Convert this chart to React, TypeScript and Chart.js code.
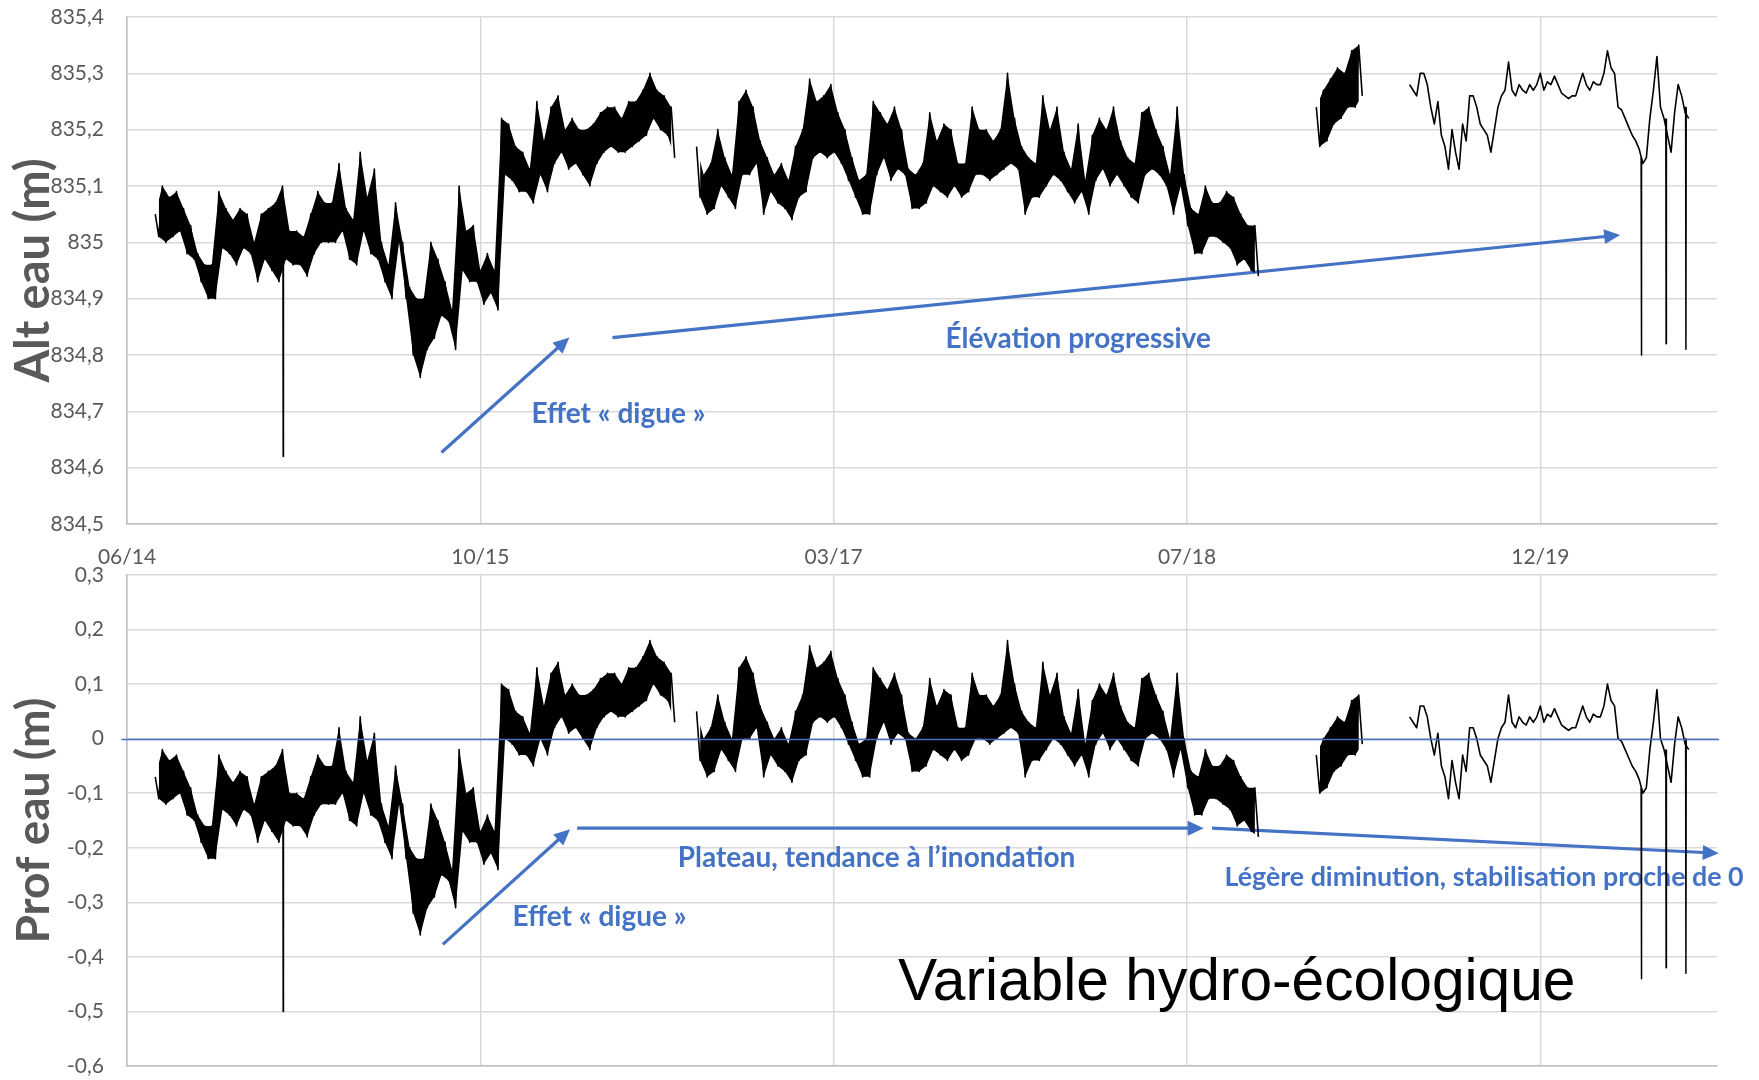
import React, { useEffect, useRef } from "react";
import { Chart, registerables } from "chart.js";

Chart.register(...registerables);

// ---------------- DATA ----------------
// x axis = days since the first major tick (06/14); one major tick every 500 days
const xTickValues = [0, 500, 1000, 1500, 2000];
const xTickLabels = ["06/14", "10/15", "03/17", "07/18", "12/19"];
const altTickLabels = ["834,5", "834,6", "834,7", "834,8", "834,9", "835", "835,1", "835,2", "835,3", "835,4"];
const profTickLabels = ["-0,6", "-0,5", "-0,4", "-0,3", "-0,2", "-0,1", "0", "0,1", "0,2", "0,3"];

// four recording periods (first sample day), samples every 5 days
const segmentStartDays = [40, 806, 1683, 1815];
const sampleStepDays = 5;

// Altitude of water (m) – recording periods 1..4 (noisy periods alternate high / low readings)
const altSeg1 = [
  835.05, 835.01, 835.1, 835.0, 835.08, 835.01, 835.09, 835.02, 835.06, 834.98, 835.03, 834.97, 834.98, 834.93, 834.96, 834.9, 834.96, 834.9, 835.09, 834.99,
  835.06, 834.98, 835.04, 834.96, 835.06, 834.99, 835.05, 834.98, 835.0, 834.93, 835.05, 834.97, 835.06, 834.95, 835.07, 834.93, 835.1, 834.97, 835.02, 834.96,
  835.02, 834.96, 835.01, 834.94, 835.05, 834.98, 835.09, 835.0, 835.07, 835.0, 835.07, 835.0, 835.14, 835.02, 835.06, 834.97, 835.04, 834.96, 835.16, 835.02,
  835.08, 834.98, 835.13, 834.97, 835.0, 834.93, 834.96, 834.9, 835.07, 835.0, 835.0, 834.9, 834.92, 834.8, 834.9, 834.76, 834.9, 834.81, 835.0, 834.83,
  834.97, 834.87, 834.93, 834.86, 834.88, 834.81, 835.1, 834.95, 835.02, 834.93, 835.03, 834.93, 834.95, 834.89, 834.98, 834.91, 834.95, 834.88, 835.22, 835.12,
  835.21, 835.11, 835.17, 835.09, 835.16, 835.09, 835.13, 835.07, 835.25, 835.12, 835.18, 835.09, 835.24, 835.14, 835.26, 835.16, 835.2, 835.13, 835.22, 835.14,
  835.2, 835.12, 835.2, 835.1, 835.21, 835.14, 835.23, 835.16, 835.24, 835.17, 835.24, 835.16, 835.22, 835.16, 835.25, 835.17, 835.25, 835.18, 835.27, 835.19,
  835.3, 835.22, 835.27, 835.2, 835.26, 835.19, 835.24, 835.15,
];
const altSeg2 = [
  835.17, 835.08, 835.12, 835.05, 835.14, 835.06, 835.2, 835.1, 835.15, 835.08, 835.12, 835.06, 835.25, 835.12, 835.27, 835.12, 835.24, 835.14, 835.18, 835.05,
  835.15, 835.09, 835.12, 835.07, 835.14, 835.06, 835.11, 835.04, 835.17, 835.08, 835.2, 835.09, 835.29, 835.15, 835.25, 835.16, 835.26, 835.15, 835.28, 835.16,
  835.23, 835.14, 835.2, 835.11, 835.15, 835.08, 835.11, 835.05, 835.12, 835.05, 835.25, 835.12, 835.23, 835.15, 835.21, 835.11, 835.24, 835.13, 835.2, 835.12,
  835.13, 835.06, 835.12, 835.06, 835.14, 835.07, 835.23, 835.1, 835.18, 835.09, 835.21, 835.08, 835.2, 835.1, 835.14, 835.08, 835.14, 835.09, 835.24, 835.12,
  835.2, 835.12, 835.2, 835.11, 835.18, 835.12, 835.2, 835.13, 835.3, 835.14, 835.22, 835.13, 835.17, 835.05, 835.15, 835.08, 835.14, 835.08, 835.26, 835.1,
  835.2, 835.12, 835.24, 835.11, 835.16, 835.09, 835.13, 835.07, 835.21, 835.09, 835.11, 835.05, 835.19, 835.11, 835.22, 835.13, 835.2, 835.1, 835.24, 835.12,
  835.18, 835.1, 835.15, 835.08, 835.14, 835.07, 835.23, 835.12, 835.24, 835.13, 835.2, 835.12, 835.17, 835.1, 835.12, 835.05, 835.24, 835.1, 835.12, 835.03,
  835.06, 834.98, 835.05, 834.98, 835.1, 835.01, 835.07, 835.01, 835.07, 835.0, 835.09, 834.99, 835.08, 834.96, 835.05, 834.97, 835.03, 834.95, 835.03, 834.94,
];
const altSeg3 = [835.24, 835.17, 835.27, 835.18, 835.29, 835.21, 835.31, 835.22, 835.3, 835.24, 835.34, 835.24, 835.35, 835.26];
const altSeg4 = [
  835.28, 835.27, 835.26, 835.3, 835.3, 835.28, 835.24, 835.21, 835.25, 835.19,
  835.17, 835.13, 835.2, 835.16, 835.13, 835.21, 835.18, 835.26, 835.26, 835.24,
  835.21, 835.2, 835.19, 835.16, 835.2, 835.24, 835.26, 835.27, 835.32, 835.27,
  835.26, 835.28, 835.27, 835.265, 835.28, 835.27, 835.28, 835.3, 835.27, 835.285,
  835.28, 835.295, 835.28, 835.265, 835.26, 835.255, 835.26, 835.26, 835.28, 835.3,
  835.28, 835.27, 835.285, 835.28, 835.28, 835.3, 835.34, 835.31, 835.3, 835.24,
  835.235, 835.22, 835.205, 835.19, 835.18, 835.165, 835.14, 835.15, 835.22, 835.27,
  835.33, 835.24, 835.22, 835.19, 835.16, 835.23, 835.28, 835.26, 835.23, 835.22,
];

// Water depth (m) – recording periods 1..4
const profSeg1 = [
  -0.07, -0.11, -0.02, -0.12, -0.04, -0.11, -0.03, -0.1, -0.06, -0.14, -0.09, -0.15, -0.14, -0.19, -0.16, -0.22, -0.16, -0.22, -0.03, -0.13,
  -0.06, -0.14, -0.08, -0.16, -0.06, -0.13, -0.07, -0.14, -0.12, -0.19, -0.07, -0.15, -0.06, -0.17, -0.05, -0.19, -0.02, -0.15, -0.1, -0.16,
  -0.1, -0.16, -0.11, -0.18, -0.07, -0.14, -0.03, -0.12, -0.05, -0.12, -0.05, -0.12, 0.02, -0.1, -0.06, -0.15, -0.08, -0.16, 0.04, -0.1,
  -0.04, -0.14, 0.01, -0.15, -0.12, -0.19, -0.16, -0.22, -0.05, -0.12, -0.12, -0.22, -0.2, -0.32, -0.22, -0.36, -0.22, -0.31, -0.12, -0.29,
  -0.15, -0.25, -0.19, -0.26, -0.24, -0.31, -0.02, -0.17, -0.1, -0.19, -0.09, -0.19, -0.17, -0.23, -0.14, -0.21, -0.17, -0.24, 0.1, 0.0,
  0.09, -0.01, 0.05, -0.03, 0.04, -0.03, 0.01, -0.05, 0.13, 0.0, 0.06, -0.03, 0.12, 0.02, 0.14, 0.04, 0.08, 0.01, 0.1, 0.02,
  0.08, 0.0, 0.08, -0.02, 0.09, 0.02, 0.11, 0.04, 0.12, 0.05, 0.12, 0.04, 0.1, 0.04, 0.13, 0.05, 0.13, 0.06, 0.15, 0.07,
  0.18, 0.1, 0.15, 0.08, 0.14, 0.07, 0.12, 0.03,
];
const profSeg2 = [
  0.05, -0.04, 0.0, -0.07, 0.02, -0.06, 0.08, -0.02, 0.03, -0.04, 0.0, -0.06, 0.13, 0.0, 0.15, 0.0, 0.12, 0.02, 0.06, -0.07,
  0.03, -0.03, 0.0, -0.05, 0.02, -0.06, -0.01, -0.08, 0.05, -0.04, 0.08, -0.03, 0.17, 0.03, 0.13, 0.04, 0.14, 0.03, 0.16, 0.04,
  0.11, 0.02, 0.08, -0.01, 0.03, -0.04, -0.01, -0.07, 0.0, -0.07, 0.13, 0.0, 0.11, 0.03, 0.09, -0.01, 0.12, 0.01, 0.08, 0.0,
  0.01, -0.06, 0.0, -0.06, 0.02, -0.05, 0.11, -0.02, 0.06, -0.03, 0.09, -0.04, 0.08, -0.02, 0.02, -0.04, 0.02, -0.03, 0.12, 0.0,
  0.08, 0.0, 0.08, -0.01, 0.06, 0.0, 0.08, 0.01, 0.18, 0.02, 0.1, 0.01, 0.05, -0.07, 0.03, -0.04, 0.02, -0.04, 0.14, -0.02,
  0.08, 0.0, 0.12, -0.01, 0.04, -0.03, 0.01, -0.05, 0.09, -0.03, -0.01, -0.07, 0.07, -0.01, 0.1, 0.01, 0.08, -0.02, 0.12, 0.0,
  0.06, -0.02, 0.03, -0.04, 0.02, -0.05, 0.11, 0.0, 0.12, 0.01, 0.08, 0.0, 0.05, -0.02, 0.0, -0.07, 0.12, -0.02, 0.0, -0.09,
  -0.06, -0.14, -0.07, -0.14, -0.02, -0.11, -0.05, -0.11, -0.05, -0.12, -0.03, -0.13, -0.04, -0.16, -0.07, -0.15, -0.09, -0.17, -0.09, -0.18,
];
const profSeg3 = [-0.03, -0.1, 0.0, -0.09, 0.02, -0.06, 0.04, -0.05, 0.03, -0.03, 0.07, -0.03, 0.08, -0.01];
const profSeg4 = [
  0.04, 0.03, 0.02, 0.06, 0.06, 0.04, 0.0, -0.03, 0.01, -0.05,
  -0.07, -0.11, -0.04, -0.08, -0.11, -0.03, -0.06, 0.02, 0.02, 0.0,
  -0.03, -0.04, -0.05, -0.08, -0.04, 0.0, 0.02, 0.03, 0.08, 0.03,
  0.02, 0.04, 0.03, 0.025, 0.04, 0.03, 0.04, 0.06, 0.03, 0.045,
  0.04, 0.055, 0.04, 0.025, 0.02, 0.015, 0.02, 0.02, 0.04, 0.06,
  0.04, 0.03, 0.045, 0.04, 0.04, 0.06, 0.1, 0.07, 0.06, 0.0,
  -0.005, -0.02, -0.035, -0.05, -0.06, -0.075, -0.1, -0.09, -0.02, 0.03,
  0.09, 0.0, -0.02, -0.05, -0.08, -0.01, 0.04, 0.02, -0.01, -0.02,
];

// single-sample drops of the sensor
const spikeDays = [221, 2143, 2178, 2206];
const altSpikeBase = [835.04, 835.15, 835.22, 835.24];
const altSpikeMin = [834.62, 834.8, 834.82, 834.81];
const profSpikeBase = [-0.08, -0.09, -0.02, 0.0];
const profSpikeMin = [-0.5, -0.44, -0.42, -0.43];

// ---------------- STYLE ----------------
const FONT = "Lato, 'Open Sans', sans-serif";
const TICK_COLOR = "#595959";
const GRID_COLOR = "#d9d9d9";
const AXIS_COLOR = "#bfbfbf";
const BLUE = "#4472C4";
const NOTE_FONT = `bold 28px ${FONT}`;
const NOTE_FONT_SMALL = `bold 26.8px ${FONT}`;
const NOISY_SEGMENTS = [true, true, true, false];

type Pt = { x: number; y: number | null };

const lineBase = {
  borderColor: "#000",
  pointRadius: 0,
  pointHoverRadius: 0,
  spanGaps: false,
  tension: 0,
  borderJoinStyle: "round",
};

function segmentDatasets(segs: number[][], base: number[], min: number[]): any[] {
  const sets: any[] = [];
  segs.forEach((vals, s) => {
    const pts: Pt[] = vals.map((v, i) => ({ x: segmentStartDays[s] + i * sampleStepDays, y: v }));
    if (NOISY_SEGMENTS[s]) {
      // dense noise band: envelope of high readings and low readings filled in black
      sets.push({ ...lineBase, data: pts.filter((_, i) => i % 2 === 0), borderWidth: 0, fill: false });
      sets.push({ ...lineBase, data: pts.filter((_, i) => i % 2 === 1), borderWidth: 0, fill: "-1", backgroundColor: "#000" });
    }
    sets.push({ ...lineBase, data: pts, borderWidth: 1.6, fill: false });
  });
  const spikes: Pt[] = [];
  spikeDays.forEach((d, k) => {
    spikes.push({ x: d - 0.4, y: base[k] }, { x: d, y: min[k] }, { x: d + 0.4, y: base[k] }, { x: d + 0.5, y: null });
  });
  sets.push({ ...lineBase, data: spikes, borderWidth: 1.5, fill: false });
  return sets;
}

type Arrow = { from: [number, number]; to: [number, number]; head: boolean };
type Note = { text: string; at: [number, number]; align: CanvasTextAlign; baseline: CanvasTextBaseline; font: string; color: string };
type Notes = { arrows: Arrow[]; texts: Note[]; zeroLine?: [number, number] };

const topNotes: Notes = {
  arrows: [
    { from: [445, 834.627], to: [626, 834.831], head: true },
    { from: [687, 834.831], to: [2113, 835.013], head: true },
  ],
  texts: [
    { text: "Effet « digue »", at: [695.5, 834.696], align: "center", baseline: "middle", font: NOTE_FONT, color: BLUE },
    { text: "Élévation progressive", at: [1346, 834.829], align: "center", baseline: "middle", font: NOTE_FONT, color: BLUE },
  ],
};

const bottomNotes: Notes = {
  arrows: [
    { from: [447, -0.377], to: [627, -0.166], head: true },
    { from: [637, -0.164], to: [1523.6, -0.164], head: true },
    { from: [1535.4, -0.164], to: [2252.5, -0.21], head: true },
  ],
  texts: [
    { text: "Effet « digue »", at: [668.6, -0.326], align: "center", baseline: "middle", font: NOTE_FONT, color: BLUE },
    { text: "Plateau, tendance à l’inondation", at: [1060.7, -0.219], align: "center", baseline: "middle", font: NOTE_FONT, color: BLUE },
    { text: "Légère diminution, stabilisation proche de 0", at: [1553, -0.255], align: "left", baseline: "middle", font: NOTE_FONT_SMALL, color: BLUE },
    { text: "Variable hydro-écologique", at: [1091, -0.479], align: "left", baseline: "alphabetic", font: "58.7px 'Liberation Sans', Arial, sans-serif", color: "#000" },
  ],
  zeroLine: [-8, 2253],
};

function drawArrow(ctx: CanvasRenderingContext2D, x0: number, y0: number, x1: number, y1: number, head: boolean) {
  const ang = Math.atan2(y1 - y0, x1 - x0);
  const L = 16;
  const H = 7.5;
  const bx = x1 - L * Math.cos(ang);
  const by = y1 - L * Math.sin(ang);
  ctx.strokeStyle = BLUE;
  ctx.fillStyle = BLUE;
  ctx.lineWidth = 3.2;
  ctx.lineCap = "butt";
  ctx.beginPath();
  ctx.moveTo(x0, y0);
  if (head) ctx.lineTo(bx + Math.cos(ang), by + Math.sin(ang));
  else ctx.lineTo(x1, y1);
  ctx.stroke();
  if (head) {
    ctx.beginPath();
    ctx.moveTo(x1, y1);
    ctx.lineTo(bx + H * Math.sin(ang), by - H * Math.cos(ang));
    ctx.lineTo(bx - H * Math.sin(ang), by + H * Math.cos(ang));
    ctx.closePath();
    ctx.fill();
  }
}

function notesPlugin(notes: Notes) {
  return {
    id: "notes",
    beforeDatasetsDraw(chart: any) {
      const { ctx, scales } = chart;
      const xs = scales.x;
      const ys = scales.y;
      ctx.save();
      notes.arrows.forEach((a) => {
        drawArrow(ctx, xs.getPixelForValue(a.from[0]), ys.getPixelForValue(a.from[1]), xs.getPixelForValue(a.to[0]), ys.getPixelForValue(a.to[1]), a.head);
      });
      notes.texts.forEach((t) => {
        ctx.font = t.font;
        ctx.fillStyle = t.color;
        ctx.textAlign = t.align;
        ctx.textBaseline = t.baseline;
        ctx.fillText(t.text, xs.getPixelForValue(t.at[0]), ys.getPixelForValue(t.at[1]));
      });
      ctx.restore();
    },
    afterDatasetsDraw(chart: any) {
      if (!notes.zeroLine) return;
      const { ctx, scales } = chart;
      const y0 = Math.round(scales.y.getPixelForValue(0)) + 0.5;
      ctx.save();
      ctx.strokeStyle = BLUE;
      ctx.lineWidth = 1.5;
      ctx.beginPath();
      ctx.moveTo(scales.x.getPixelForValue(notes.zeroLine[0]), y0);
      ctx.lineTo(scales.x.getPixelForValue(notes.zeroLine[1]), y0);
      ctx.stroke();
      ctx.restore();
    },
  };
}

function makeConfig(opts: {
  datasets: any[];
  yMin: number;
  yMax: number;
  yLabels: string[];
  title: string;
  titleSize: number;
  padding: { left: number; right: number; top: number; bottom: number };
  xHeight: number;
  showX: boolean;
  notes: Notes;
}): any {
  const tickFont = { family: FONT, size: 21 };
  return {
    type: "line",
    data: { datasets: opts.datasets },
    options: {
      animation: false,
      responsive: false,
      devicePixelRatio: 1,
      events: [],
      layout: { padding: opts.padding, autoPadding: false },
      plugins: {
        legend: { display: false },
        tooltip: { enabled: false },
        title: { display: false },
        filler: { propagate: false, drawTime: "beforeDatasetDraw" },
      },
      scales: {
        x: {
          type: "linear",
          min: 0,
          max: 2250,
          bounds: "data",
          ticks: {
            display: opts.showX,
            maxRotation: 0,
            autoSkip: false,
            color: TICK_COLOR,
            font: tickFont,
            padding: 21,
            callback: (v: number) => {
              const i = xTickValues.indexOf(v);
              return i >= 0 ? xTickLabels[i] : "";
            },
          },
          afterBuildTicks: (s: any) => {
            s.ticks = xTickValues.map((v) => ({ value: v }));
            s.min = 0;
            s.max = 2250;
          },
          grid: { color: GRID_COLOR, lineWidth: 1.5, drawTicks: false },
          border: { color: AXIS_COLOR, width: 1.5 },
          afterFit: (s: any) => {
            s.height = opts.xHeight;
          },
        },
        y: {
          type: "linear",
          min: opts.yMin,
          max: opts.yMax,
          ticks: {
            stepSize: 0.1,
            color: TICK_COLOR,
            font: tickFont,
            padding: 23,
            callback: (v: number) => opts.yLabels[Math.round((v - opts.yMin) / 0.1)] ?? "",
          },
          grid: { color: GRID_COLOR, lineWidth: 1.5, drawTicks: false },
          border: { color: AXIS_COLOR, width: 1.5 },
          title: {
            display: true,
            text: opts.title,
            color: TICK_COLOR,
            font: { family: FONT, size: opts.titleSize, weight: "bold" },
            padding: { top: 34 - opts.titleSize * 0.6, bottom: 0 },
          },
          afterFit: (s: any) => {
            s.width = 127;
            s.paddingTop = 0;
            s.paddingBottom = 0;
          },
        },
      },
    },
    plugins: [notesPlugin(opts.notes)],
  };
}

export default function App() {
  const topRef = useRef<HTMLCanvasElement>(null);
  const botRef = useRef<HTMLCanvasElement>(null);

  useEffect(() => {
    Chart.defaults.font.family = FONT;
    const top = new Chart(
      topRef.current!,
      makeConfig({
        datasets: segmentDatasets([altSeg1, altSeg2, altSeg3, altSeg4], altSpikeBase, altSpikeMin),
        yMin: 834.5,
        yMax: 835.4,
        yLabels: altTickLabels,
        title: "Alt eau (m)",
        titleSize: 47,
        padding: { left: 0, right: 42, top: 17, bottom: 0 },
        xHeight: 56,
        showX: true,
        notes: topNotes,
      })
    );
    const bottom = new Chart(
      botRef.current!,
      makeConfig({
        datasets: segmentDatasets([profSeg1, profSeg2, profSeg3, profSeg4], profSpikeBase, profSpikeMin),
        yMin: -0.6,
        yMax: 0.3,
        yLabels: profTickLabels,
        title: "Prof eau (m)",
        titleSize: 46,
        padding: { left: 0, right: 42, top: 15, bottom: 14 },
        xHeight: 0,
        showX: false,
        notes: bottomNotes,
      })
    );
    return () => {
      top.destroy();
      bottom.destroy();
    };
  }, []);

  return (
    <div style={{ position: "absolute", left: 0, top: 0, width: 1759, height: 1080, background: "#fff", overflow: "hidden" }}>
      <canvas ref={topRef} width={1759} height={580} style={{ position: "absolute", left: 0, top: 0, width: 1759, height: 580 }} />
      <canvas ref={botRef} width={1759} height={520} style={{ position: "absolute", left: 0, top: 560, width: 1759, height: 520 }} />
    </div>
  );
}
